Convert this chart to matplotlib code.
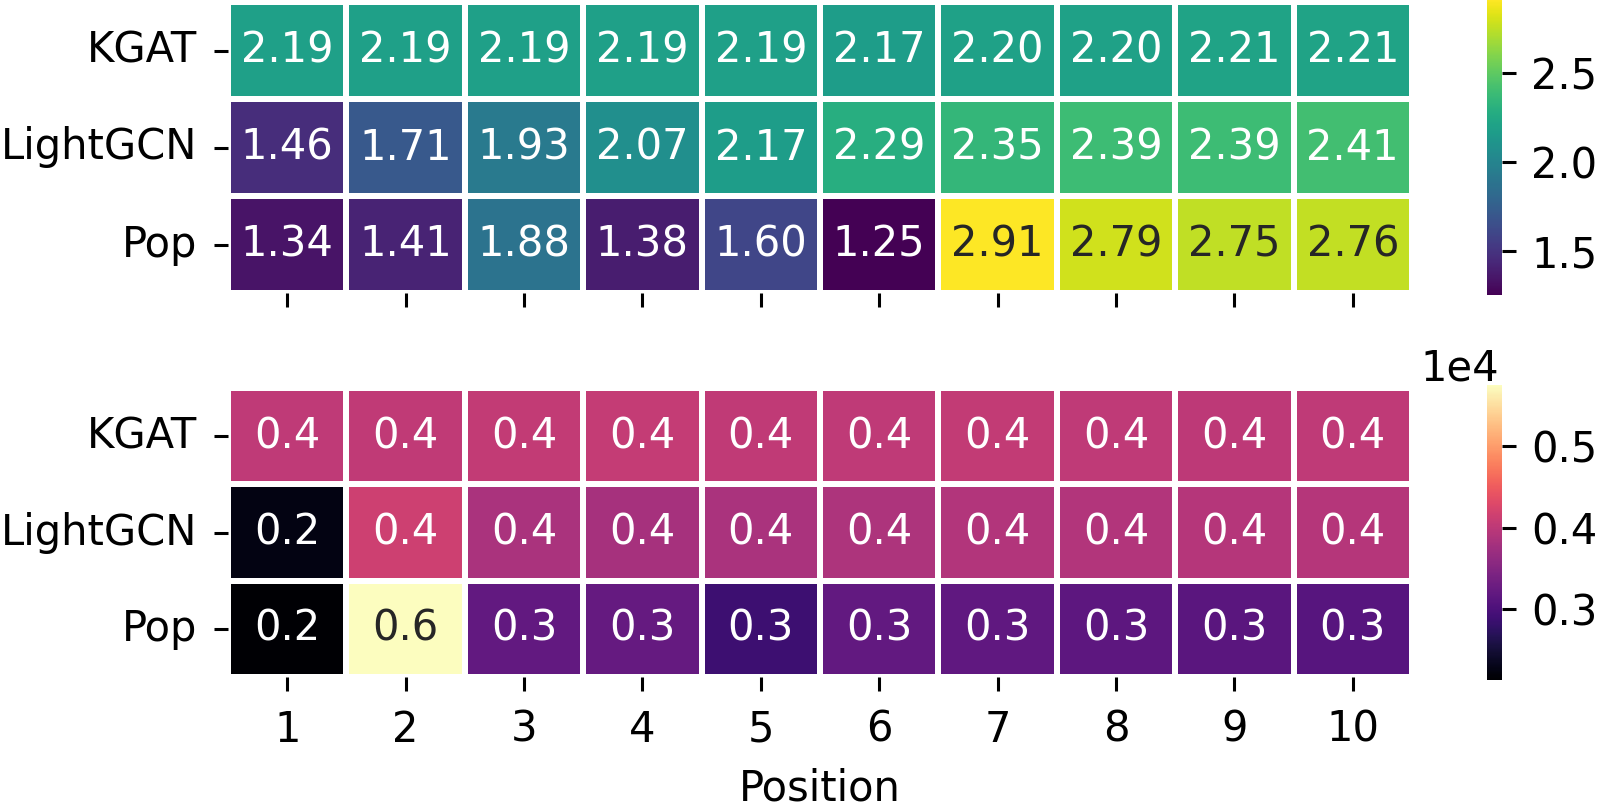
import numpy as np
import matplotlib
matplotlib.use("Agg")
import matplotlib.pyplot as plt
import seaborn as sns

models = ["KGAT", "LightGCN", "Pop"]
positions = [1, 2, 3, 4, 5, 6, 7, 8, 9, 10]

# top panel values
top_kgat = [2.19, 2.19, 2.19, 2.19, 2.19, 2.17, 2.20, 2.20, 2.21, 2.21]
top_lightgcn = [1.46, 1.71, 1.93, 2.07, 2.17, 2.29, 2.35, 2.39, 2.39, 2.41]
top_pop = [1.34, 1.41, 1.88, 1.38, 1.60, 1.25, 2.91, 2.79, 2.75, 2.76]

# bottom panel values (raw counts)
bot_kgat = [4020, 4030, 4050, 4060, 4030, 4020, 4050, 4020, 4010, 4020]
bot_lightgcn = [2250, 4150, 3830, 3800, 3830, 3860, 3900, 3900, 3930, 3930]
bot_pop = [2130, 5750, 3200, 3220, 2870, 3200, 3180, 3150, 3120, 3100]

FS = 30
W, H = 1597, 810

top = np.array([top_kgat, top_lightgcn, top_pop])
bot = np.array([bot_kgat, bot_lightgcn, bot_pop])
bot_annot = np.array([[f"{v / 1e4:.1f}" for v in row] for row in bot])

fig = plt.figure(figsize=(W / 100, H / 100), dpi=100)

def rect(x0, y0, x1, y1):
    return [x0 / W, 1 - y1 / H, (x1 - x0) / W, (y1 - y0) / H]

ax1 = fig.add_axes(rect(228, 2, 1412, 293))
ax2 = fig.add_axes(rect(228, 388, 1412, 677))
cax1 = fig.add_axes(rect(1487, 0, 1502, 295))
cax2 = fig.add_axes(rect(1487, 385, 1502, 680))

sns.heatmap(top, ax=ax1, cmap="viridis", annot=True, fmt=".2f",
            linewidths=3, linecolor="white", cbar_ax=cax1,
            annot_kws={"size": FS}, xticklabels=positions, yticklabels=models)
sns.heatmap(bot, ax=ax2, cmap="magma", annot=bot_annot, fmt="",
            linewidths=3, linecolor="white", cbar_ax=cax2,
            annot_kws={"size": FS}, xticklabels=positions, yticklabels=models)

for ax in (ax1, ax2):
    ax.tick_params(axis="x", labelsize=FS, length=10, width=2.2, pad=13)
    ax.tick_params(axis="y", labelsize=FS, length=10, width=2.2, pad=12)
    ax.set_yticklabels(models, rotation=0)
ax1.set_xticklabels([])
ax1.set_xlabel("")
ax2.set_xticklabels([str(p) for p in positions], rotation=0)
ax2.set_xlabel("Position", fontsize=FS, labelpad=12)

cb1 = ax1.collections[0].colorbar
cb1.set_ticks([1.5, 2.0, 2.5])
cb1.ax.tick_params(labelsize=FS, length=10, width=2.2, pad=11)
cb1.outline.set_visible(False)

cb2 = ax2.collections[0].colorbar
cb2.set_ticks([3000, 4000, 5000])
cb2.formatter.set_powerlimits((4, 4))
cb2.update_ticks()
cb2.ax.tick_params(labelsize=FS, length=10, width=2.2, pad=11)
cb2.outline.set_visible(False)
off = cb2.ax.yaxis.get_offset_text()
off.set_fontsize(FS)
off.set_horizontalalignment("right")
off.set_x(0.8)

fig.savefig("out.png", dpi=100)
